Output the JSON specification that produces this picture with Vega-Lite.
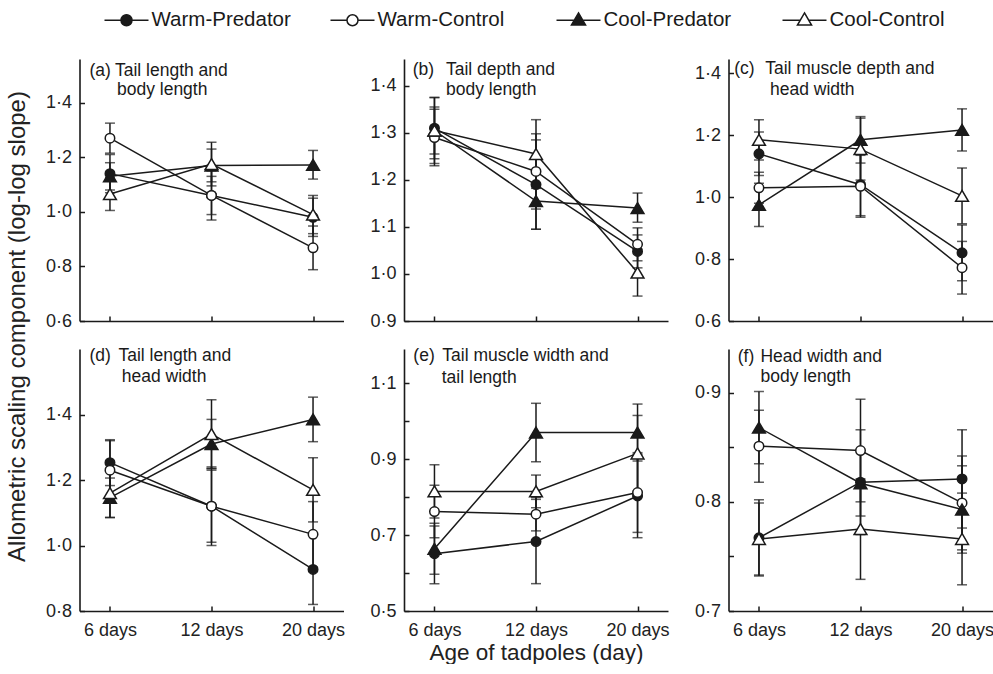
{
  "$schema": "https://vega.github.io/schema/vega-lite/v6.json",
  "autosize": {"type": "pad"},
  "padding": {"left": 4.5, "top": -3, "right": 0, "bottom": 0},
  "datasets": {
    "slopes": [
      {"panel":"a","group":"Warm-Predator","age":"6 days","day":6,"y":1.14,"lo":1.07,"hi":1.21},
      {"panel":"a","group":"Warm-Predator","age":"12 days","day":12,"y":1.06,"lo":0.99,"hi":1.13},
      {"panel":"a","group":"Warm-Predator","age":"20 days","day":20,"y":0.98,"lo":0.91,"hi":1.05},
      {"panel":"a","group":"Warm-Control","age":"6 days","day":6,"y":1.27,"lo":1.215,"hi":1.325},
      {"panel":"a","group":"Warm-Control","age":"12 days","day":12,"y":1.06,"lo":0.97,"hi":1.15},
      {"panel":"a","group":"Warm-Control","age":"20 days","day":20,"y":0.868,"lo":0.788,"hi":0.948},
      {"panel":"a","group":"Cool-Predator","age":"6 days","day":6,"y":1.13,"lo":1.08,"hi":1.18},
      {"panel":"a","group":"Cool-Predator","age":"12 days","day":12,"y":1.17,"lo":1.11,"hi":1.23},
      {"panel":"a","group":"Cool-Predator","age":"20 days","day":20,"y":1.172,"lo":1.12,"hi":1.225},
      {"panel":"a","group":"Cool-Control","age":"6 days","day":6,"y":1.065,"lo":1.005,"hi":1.125},
      {"panel":"a","group":"Cool-Control","age":"12 days","day":12,"y":1.175,"lo":1.095,"hi":1.255},
      {"panel":"a","group":"Cool-Control","age":"20 days","day":20,"y":0.99,"lo":0.92,"hi":1.06},

      {"panel":"b","group":"Warm-Predator","age":"6 days","day":6,"y":1.31,"lo":1.245,"hi":1.375},
      {"panel":"b","group":"Warm-Predator","age":"12 days","day":12,"y":1.19,"lo":1.095,"hi":1.285},
      {"panel":"b","group":"Warm-Predator","age":"20 days","day":20,"y":1.048,"lo":1.013,"hi":1.083},
      {"panel":"b","group":"Warm-Control","age":"6 days","day":6,"y":1.29,"lo":1.23,"hi":1.35},
      {"panel":"b","group":"Warm-Control","age":"12 days","day":12,"y":1.218,"lo":1.138,"hi":1.298},
      {"panel":"b","group":"Warm-Control","age":"20 days","day":20,"y":1.063,"lo":1.028,"hi":1.098},
      {"panel":"b","group":"Cool-Predator","age":"6 days","day":6,"y":1.305,"lo":1.255,"hi":1.355},
      {"panel":"b","group":"Cool-Predator","age":"12 days","day":12,"y":1.155,"lo":1.095,"hi":1.215},
      {"panel":"b","group":"Cool-Predator","age":"20 days","day":20,"y":1.14,"lo":1.11,"hi":1.172},
      {"panel":"b","group":"Cool-Control","age":"6 days","day":6,"y":1.305,"lo":1.235,"hi":1.375},
      {"panel":"b","group":"Cool-Control","age":"12 days","day":12,"y":1.255,"lo":1.182,"hi":1.328},
      {"panel":"b","group":"Cool-Control","age":"20 days","day":20,"y":1.003,"lo":0.953,"hi":1.053},

      {"panel":"c","group":"Warm-Predator","age":"6 days","day":6,"y":1.14,"lo":1.07,"hi":1.21},
      {"panel":"c","group":"Warm-Predator","age":"12 days","day":12,"y":1.04,"lo":0.94,"hi":1.14},
      {"panel":"c","group":"Warm-Predator","age":"20 days","day":20,"y":0.82,"lo":0.73,"hi":0.91},
      {"panel":"c","group":"Warm-Control","age":"6 days","day":6,"y":1.03,"lo":0.98,"hi":1.08},
      {"panel":"c","group":"Warm-Control","age":"12 days","day":12,"y":1.035,"lo":0.935,"hi":1.135},
      {"panel":"c","group":"Warm-Control","age":"20 days","day":20,"y":0.772,"lo":0.687,"hi":0.857},
      {"panel":"c","group":"Cool-Predator","age":"6 days","day":6,"y":0.975,"lo":0.905,"hi":1.045},
      {"panel":"c","group":"Cool-Predator","age":"12 days","day":12,"y":1.185,"lo":1.11,"hi":1.26},
      {"panel":"c","group":"Cool-Predator","age":"20 days","day":20,"y":1.217,"lo":1.149,"hi":1.285},
      {"panel":"c","group":"Cool-Control","age":"6 days","day":6,"y":1.185,"lo":1.12,"hi":1.25},
      {"panel":"c","group":"Cool-Control","age":"12 days","day":12,"y":1.155,"lo":1.055,"hi":1.255},
      {"panel":"c","group":"Cool-Control","age":"20 days","day":20,"y":1.004,"lo":0.914,"hi":1.094},

      {"panel":"d","group":"Warm-Predator","age":"6 days","day":6,"y":1.253,"lo":1.183,"hi":1.323},
      {"panel":"d","group":"Warm-Predator","age":"12 days","day":12,"y":1.12,"lo":1.01,"hi":1.23},
      {"panel":"d","group":"Warm-Predator","age":"20 days","day":20,"y":0.927,"lo":0.82,"hi":1.034},
      {"panel":"d","group":"Warm-Control","age":"6 days","day":6,"y":1.23,"lo":1.14,"hi":1.32},
      {"panel":"d","group":"Warm-Control","age":"12 days","day":12,"y":1.12,"lo":1.0,"hi":1.24},
      {"panel":"d","group":"Warm-Control","age":"20 days","day":20,"y":1.034,"lo":0.934,"hi":1.134},
      {"panel":"d","group":"Cool-Predator","age":"6 days","day":6,"y":1.146,"lo":1.086,"hi":1.206},
      {"panel":"d","group":"Cool-Predator","age":"12 days","day":12,"y":1.31,"lo":1.235,"hi":1.385},
      {"panel":"d","group":"Cool-Predator","age":"20 days","day":20,"y":1.385,"lo":1.317,"hi":1.453},
      {"panel":"d","group":"Cool-Control","age":"6 days","day":6,"y":1.16,"lo":1.085,"hi":1.235},
      {"panel":"d","group":"Cool-Control","age":"12 days","day":12,"y":1.34,"lo":1.235,"hi":1.445},
      {"panel":"d","group":"Cool-Control","age":"20 days","day":20,"y":1.17,"lo":1.072,"hi":1.268},

      {"panel":"e","group":"Warm-Predator","age":"6 days","day":6,"y":0.651,"lo":0.572,"hi":0.724},
      {"panel":"e","group":"Warm-Predator","age":"12 days","day":12,"y":0.683,"lo":0.572,"hi":0.794},
      {"panel":"e","group":"Warm-Predator","age":"20 days","day":20,"y":0.803,"lo":0.693,"hi":0.913},
      {"panel":"e","group":"Warm-Control","age":"6 days","day":6,"y":0.762,"lo":0.693,"hi":0.831},
      {"panel":"e","group":"Warm-Control","age":"12 days","day":12,"y":0.755,"lo":0.711,"hi":0.799},
      {"panel":"e","group":"Warm-Control","age":"20 days","day":20,"y":0.812,"lo":0.707,"hi":0.917},
      {"panel":"e","group":"Cool-Predator","age":"6 days","day":6,"y":0.664,"lo":0.597,"hi":0.731},
      {"panel":"e","group":"Cool-Predator","age":"12 days","day":12,"y":0.97,"lo":0.893,"hi":1.047},
      {"panel":"e","group":"Cool-Predator","age":"20 days","day":20,"y":0.97,"lo":0.895,"hi":1.045},
      {"panel":"e","group":"Cool-Control","age":"6 days","day":6,"y":0.815,"lo":0.745,"hi":0.885},
      {"panel":"e","group":"Cool-Control","age":"12 days","day":12,"y":0.815,"lo":0.772,"hi":0.858},
      {"panel":"e","group":"Cool-Control","age":"20 days","day":20,"y":0.915,"lo":0.815,"hi":1.015},

      {"panel":"f","group":"Warm-Predator","age":"6 days","day":6,"y":0.767,"lo":0.732,"hi":0.802},
      {"panel":"f","group":"Warm-Predator","age":"12 days","day":12,"y":0.818,"lo":0.77,"hi":0.866},
      {"panel":"f","group":"Warm-Predator","age":"20 days","day":20,"y":0.821,"lo":0.776,"hi":0.866},
      {"panel":"f","group":"Warm-Control","age":"6 days","day":6,"y":0.851,"lo":0.818,"hi":0.884},
      {"panel":"f","group":"Warm-Control","age":"12 days","day":12,"y":0.847,"lo":0.8,"hi":0.894},
      {"panel":"f","group":"Warm-Control","age":"20 days","day":20,"y":0.799,"lo":0.756,"hi":0.842},
      {"panel":"f","group":"Cool-Predator","age":"6 days","day":6,"y":0.868,"lo":0.835,"hi":0.901},
      {"panel":"f","group":"Cool-Predator","age":"12 days","day":12,"y":0.817,"lo":0.787,"hi":0.847},
      {"panel":"f","group":"Cool-Predator","age":"20 days","day":20,"y":0.793,"lo":0.753,"hi":0.833},
      {"panel":"f","group":"Cool-Control","age":"6 days","day":6,"y":0.766,"lo":0.733,"hi":0.799},
      {"panel":"f","group":"Cool-Control","age":"12 days","day":12,"y":0.775,"lo":0.729,"hi":0.821},
      {"panel":"f","group":"Cool-Control","age":"20 days","day":20,"y":0.766,"lo":0.724,"hi":0.808}
    ],
    "panels": [
      {"panel":"a","tag":"(a)","line1":"Tail length and","line2":"body length"},
      {"panel":"b","tag":"(b)","line1":"Tail depth and","line2":"body length"},
      {"panel":"c","tag":"(c)","line1":"Tail muscle depth and","line2":"head width"},
      {"panel":"d","tag":"(d)","line1":"Tail length and","line2":"head width"},
      {"panel":"e","tag":"(e)","line1":"Tail muscle width and","line2":"tail length"},
      {"panel":"f","tag":"(f)","line1":"Head width and","line2":"body length"}
    ]
  },
  "data": {"name": "slopes"},
  "columns": 3,
  "spacing": {"row": 28, "column": 60.5},
  "bounds": "flush",
  "concat": [
    {
      "width": 264, "height": 262,
      "transform": [{"filter": "datum.panel === 'a'"}],
      "encoding": {"x": {"field": "age", "type": "ordinal", "sort": ["6 days","12 days","20 days"], "scale": {"type": "point", "domain": ["6 days","12 days","20 days"], "padding": 0.3}, "axis": {"title": null, "labels": false}}},
      "layer": [
        {"mark": {"type": "rule", "color": "#1a1a1a", "strokeWidth": 1.5},
         "encoding": {"y": {"field": "lo", "type": "quantitative", "title": "Allometric scaling component (log-log slope)", "scale": {"domain": [0.6, 1.56], "nice": false, "zero": false},
           "axis": {"values": [0.6, 0.8, 1.0, 1.2, 1.4], "labelExpr": "replace(format(datum.value, '.1f'), '.', '·')", "titleX": -62, "titleY": 267, "titleAngle": -90, "titleAlign": "center", "titleBaseline": "middle", "titleFontSize": 24}},
           "y2": {"field": "hi"}}},
        {"mark": {"type": "tick", "color": "#1a1a1a", "thickness": 1.5, "size": 10}, "encoding": {"y": {"field": "lo", "type": "quantitative", "title": "Allometric scaling component (log-log slope)"}}},
        {"mark": {"type": "tick", "color": "#1a1a1a", "thickness": 1.5, "size": 10}, "encoding": {"y": {"field": "hi", "type": "quantitative", "title": "Allometric scaling component (log-log slope)"}}},
        {"mark": {"type": "line", "color": "#1a1a1a", "strokeWidth": 1.5}, "encoding": {"y": {"field": "y", "type": "quantitative", "title": "Allometric scaling component (log-log slope)"}, "detail": {"field": "group"}, "order": {"field": "day", "type": "quantitative"}}},
        {"mark": {"type": "point", "filled": true, "opacity": 1, "stroke": "#1a1a1a", "strokeWidth": 1.5, "size": 90},
         "encoding": {"y": {"field": "y", "type": "quantitative", "title": "Allometric scaling component (log-log slope)"},
           "shape": {"condition": {"test": "datum.group === 'Warm-Predator' || datum.group === 'Warm-Control'", "value": "circle"}, "value": "M0,-1.15L1.35,1.15L-1.35,1.15Z"},
           "fill": {"condition": {"test": "datum.group === 'Warm-Predator' || datum.group === 'Cool-Predator'", "value": "#1a1a1a"}, "value": "#ffffff"}}},
        {"transform": [{"filter": "datum.day < 0"}],
         "mark": {"type": "point", "filled": true, "opacity": 1, "stroke": "#1a1a1a", "strokeWidth": 1.5},
         "encoding": {"y": {"field": "y", "type": "quantitative", "title": "Allometric scaling component (log-log slope)"},
           "shape": {"field": "group", "type": "nominal", "scale": {"domain": ["Warm-Predator","Warm-Control","Cool-Predator","Cool-Control"], "range": ["M-1,0H-0.25M0.25,0H1M0.25,0A0.25,0.25,0,1,1,-0.25,0A0.25,0.25,0,1,1,0.25,0Z", "M-1,0H-0.25M0.25,0H1M0.25,0A0.25,0.25,0,1,1,-0.25,0A0.25,0.25,0,1,1,0.25,0Z", "M-1,0H-0.19M0.19,0H1M0,-0.33L0.32,0.22L-0.32,0.22Z", "M-1,0H-0.19M0.19,0H1M0,-0.33L0.32,0.22L-0.32,0.22Z"]},
             "legend": {"title": null, "orient": "none", "legendX": 24, "legendY": -62, "direction": "horizontal", "columns": 4, "gridAlign": "all", "symbolSize": 1936, "labelFontSize": 20.5, "labelColor": "#1a1a1a", "labelOffset": 2, "columnPadding": 36, "labelLimit": 300,
               "encode": {"symbols": {"stroke": {"value": "#1a1a1a"}, "strokeWidth": {"value": 1.5}, "opacity": {"value": 1}}}}},
           "fill": {"field": "group", "type": "nominal", "scale": {"domain": ["Warm-Predator","Warm-Control","Cool-Predator","Cool-Control"], "range": ["#1a1a1a","#ffffff","#1a1a1a","#ffffff"]},
             "legend": {"title": null, "orient": "none", "legendX": 24, "legendY": -62, "direction": "horizontal", "columns": 4, "gridAlign": "all", "symbolSize": 1936, "labelFontSize": 20.5, "labelColor": "#1a1a1a", "labelOffset": 2, "columnPadding": 36, "labelLimit": 300,
               "encode": {"symbols": {"stroke": {"value": "#1a1a1a"}, "strokeWidth": {"value": 1.5}, "opacity": {"value": 1}}}}}}},
        {"data": {"name": "panels"}, "transform": [{"filter": "datum.panel === 'a'"}], "mark": {"type": "text", "align": "left", "baseline": "middle", "dx": -20.5, "dy": 11.7, "fontSize": 17.5, "color": "#1a1a1a"}, "encoding": {"x": {"datum": "6 days"}, "y": {"datum": 1.56}, "text": {"field": "tag"}}},
        {"data": {"name": "panels"}, "transform": [{"filter": "datum.panel === 'a'"}], "mark": {"type": "text", "align": "left", "baseline": "middle", "dx": 5, "dy": 11.7, "fontSize": 17.5, "color": "#1a1a1a"}, "encoding": {"x": {"datum": "6 days"}, "y": {"datum": 1.56}, "text": {"field": "line1"}}},
        {"data": {"name": "panels"}, "transform": [{"filter": "datum.panel === 'a'"}], "mark": {"type": "text", "align": "left", "baseline": "middle", "dx": 7, "dy": 31, "fontSize": 17.5, "color": "#1a1a1a"}, "encoding": {"x": {"datum": "6 days"}, "y": {"datum": 1.56}, "text": {"field": "line2"}}}
      ]
    },
    {
      "width": 264, "height": 262,
      "transform": [{"filter": "datum.panel === 'b'"}],
      "encoding": {"x": {"field": "age", "type": "ordinal", "sort": ["6 days","12 days","20 days"], "scale": {"type": "point", "domain": ["6 days","12 days","20 days"], "padding": 0.3}, "axis": {"title": null, "labels": false}}},
      "layer": [
        {"mark": {"type": "rule", "color": "#1a1a1a", "strokeWidth": 1.5},
         "encoding": {"y": {"field": "lo", "type": "quantitative", "title": null, "scale": {"domain": [0.9, 1.457], "nice": false, "zero": false},
           "axis": {"values": [0.9, 1.0, 1.1, 1.2, 1.3, 1.4], "labelExpr": "replace(format(datum.value, '.1f'), '.', '·')"}},
           "y2": {"field": "hi"}}},
        {"mark": {"type": "tick", "color": "#1a1a1a", "thickness": 1.5, "size": 10}, "encoding": {"y": {"field": "lo", "type": "quantitative", "title": null}}},
        {"mark": {"type": "tick", "color": "#1a1a1a", "thickness": 1.5, "size": 10}, "encoding": {"y": {"field": "hi", "type": "quantitative", "title": null}}},
        {"mark": {"type": "line", "color": "#1a1a1a", "strokeWidth": 1.5}, "encoding": {"y": {"field": "y", "type": "quantitative", "title": null}, "detail": {"field": "group"}, "order": {"field": "day", "type": "quantitative"}}},
        {"mark": {"type": "point", "filled": true, "opacity": 1, "stroke": "#1a1a1a", "strokeWidth": 1.5, "size": 90},
         "encoding": {"y": {"field": "y", "type": "quantitative", "title": null},
           "shape": {"condition": {"test": "datum.group === 'Warm-Predator' || datum.group === 'Warm-Control'", "value": "circle"}, "value": "M0,-1.15L1.35,1.15L-1.35,1.15Z"},
           "fill": {"condition": {"test": "datum.group === 'Warm-Predator' || datum.group === 'Cool-Predator'", "value": "#1a1a1a"}, "value": "#ffffff"}}},
        {"data": {"name": "panels"}, "transform": [{"filter": "datum.panel === 'b'"}], "mark": {"type": "text", "align": "left", "baseline": "middle", "dx": -21.8, "dy": 11.4, "fontSize": 17.5, "color": "#1a1a1a"}, "encoding": {"x": {"datum": "6 days"}, "y": {"datum": 1.457}, "text": {"field": "tag"}}},
        {"data": {"name": "panels"}, "transform": [{"filter": "datum.panel === 'b'"}], "mark": {"type": "text", "align": "left", "baseline": "middle", "dx": 11.5, "dy": 11.4, "fontSize": 17.5, "color": "#1a1a1a"}, "encoding": {"x": {"datum": "6 days"}, "y": {"datum": 1.457}, "text": {"field": "line1"}}},
        {"data": {"name": "panels"}, "transform": [{"filter": "datum.panel === 'b'"}], "mark": {"type": "text", "align": "left", "baseline": "middle", "dx": 11.5, "dy": 30.7, "fontSize": 17.5, "color": "#1a1a1a"}, "encoding": {"x": {"datum": "6 days"}, "y": {"datum": 1.457}, "text": {"field": "line2"}}}
      ]
    },
    {
      "width": 264, "height": 262,
      "transform": [{"filter": "datum.panel === 'c'"}],
      "encoding": {"x": {"field": "age", "type": "ordinal", "sort": ["6 days","12 days","20 days"], "scale": {"type": "point", "domain": ["6 days","12 days","20 days"], "padding": 0.3}, "axis": {"title": null, "labels": false}}},
      "layer": [
        {"mark": {"type": "rule", "color": "#1a1a1a", "strokeWidth": 1.5},
         "encoding": {"y": {"field": "lo", "type": "quantitative", "title": null, "scale": {"domain": [0.6, 1.446], "nice": false, "zero": false},
           "axis": {"values": [0.6, 0.8, 1.0, 1.2, 1.4], "labelExpr": "replace(format(datum.value, '.1f'), '.', '·')"}},
           "y2": {"field": "hi"}}},
        {"mark": {"type": "tick", "color": "#1a1a1a", "thickness": 1.5, "size": 10}, "encoding": {"y": {"field": "lo", "type": "quantitative", "title": null}}},
        {"mark": {"type": "tick", "color": "#1a1a1a", "thickness": 1.5, "size": 10}, "encoding": {"y": {"field": "hi", "type": "quantitative", "title": null}}},
        {"mark": {"type": "line", "color": "#1a1a1a", "strokeWidth": 1.5}, "encoding": {"y": {"field": "y", "type": "quantitative", "title": null}, "detail": {"field": "group"}, "order": {"field": "day", "type": "quantitative"}}},
        {"mark": {"type": "point", "filled": true, "opacity": 1, "stroke": "#1a1a1a", "strokeWidth": 1.5, "size": 90},
         "encoding": {"y": {"field": "y", "type": "quantitative", "title": null},
           "shape": {"condition": {"test": "datum.group === 'Warm-Predator' || datum.group === 'Warm-Control'", "value": "circle"}, "value": "M0,-1.15L1.35,1.15L-1.35,1.15Z"},
           "fill": {"condition": {"test": "datum.group === 'Warm-Predator' || datum.group === 'Cool-Predator'", "value": "#1a1a1a"}, "value": "#ffffff"}}},
        {"data": {"name": "panels"}, "transform": [{"filter": "datum.panel === 'c'"}], "mark": {"type": "text", "align": "left", "baseline": "middle", "dx": -24.8, "dy": 10, "fontSize": 17.5, "color": "#1a1a1a"}, "encoding": {"x": {"datum": "6 days"}, "y": {"datum": 1.446}, "text": {"field": "tag"}}},
        {"data": {"name": "panels"}, "transform": [{"filter": "datum.panel === 'c'"}], "mark": {"type": "text", "align": "left", "baseline": "middle", "dx": 6.2, "dy": 10, "fontSize": 17.5, "color": "#1a1a1a"}, "encoding": {"x": {"datum": "6 days"}, "y": {"datum": 1.446}, "text": {"field": "line1"}}},
        {"data": {"name": "panels"}, "transform": [{"filter": "datum.panel === 'c'"}], "mark": {"type": "text", "align": "left", "baseline": "middle", "dx": 11, "dy": 31, "fontSize": 17.5, "color": "#1a1a1a"}, "encoding": {"x": {"datum": "6 days"}, "y": {"datum": 1.446}, "text": {"field": "line2"}}}
      ]
    },
    {
      "width": 264, "height": 262,
      "transform": [{"filter": "datum.panel === 'd'"}],
      "encoding": {"x": {"field": "age", "type": "ordinal", "sort": ["6 days","12 days","20 days"], "scale": {"type": "point", "domain": ["6 days","12 days","20 days"], "padding": 0.3}, "axis": {"title": null, "labelAngle": 0}}},
      "layer": [
        {"mark": {"type": "rule", "color": "#1a1a1a", "strokeWidth": 1.5},
         "encoding": {"y": {"field": "lo", "type": "quantitative", "title": null, "scale": {"domain": [0.8, 1.6], "nice": false, "zero": false},
           "axis": {"values": [0.8, 1.0, 1.2, 1.4], "labelExpr": "replace(format(datum.value, '.1f'), '.', '·')"}},
           "y2": {"field": "hi"}}},
        {"mark": {"type": "tick", "color": "#1a1a1a", "thickness": 1.5, "size": 10}, "encoding": {"y": {"field": "lo", "type": "quantitative", "title": null}}},
        {"mark": {"type": "tick", "color": "#1a1a1a", "thickness": 1.5, "size": 10}, "encoding": {"y": {"field": "hi", "type": "quantitative", "title": null}}},
        {"mark": {"type": "line", "color": "#1a1a1a", "strokeWidth": 1.5}, "encoding": {"y": {"field": "y", "type": "quantitative", "title": null}, "detail": {"field": "group"}, "order": {"field": "day", "type": "quantitative"}}},
        {"mark": {"type": "point", "filled": true, "opacity": 1, "stroke": "#1a1a1a", "strokeWidth": 1.5, "size": 90},
         "encoding": {"y": {"field": "y", "type": "quantitative", "title": null},
           "shape": {"condition": {"test": "datum.group === 'Warm-Predator' || datum.group === 'Warm-Control'", "value": "circle"}, "value": "M0,-1.15L1.35,1.15L-1.35,1.15Z"},
           "fill": {"condition": {"test": "datum.group === 'Warm-Predator' || datum.group === 'Cool-Predator'", "value": "#1a1a1a"}, "value": "#ffffff"}}},
        {"data": {"name": "panels"}, "transform": [{"filter": "datum.panel === 'd'"}], "mark": {"type": "text", "align": "left", "baseline": "middle", "dx": -20.5, "dy": 6.7, "fontSize": 17.5, "color": "#1a1a1a"}, "encoding": {"x": {"datum": "6 days"}, "y": {"datum": 1.6}, "text": {"field": "tag"}}},
        {"data": {"name": "panels"}, "transform": [{"filter": "datum.panel === 'd'"}], "mark": {"type": "text", "align": "left", "baseline": "middle", "dx": 8.5, "dy": 6.7, "fontSize": 17.5, "color": "#1a1a1a"}, "encoding": {"x": {"datum": "6 days"}, "y": {"datum": 1.6}, "text": {"field": "line1"}}},
        {"data": {"name": "panels"}, "transform": [{"filter": "datum.panel === 'd'"}], "mark": {"type": "text", "align": "left", "baseline": "middle", "dx": 11.8, "dy": 28.3, "fontSize": 17.5, "color": "#1a1a1a"}, "encoding": {"x": {"datum": "6 days"}, "y": {"datum": 1.6}, "text": {"field": "line2"}}}
      ]
    },
    {
      "width": 264, "height": 262,
      "transform": [{"filter": "datum.panel === 'e'"}],
      "encoding": {"x": {"field": "age", "type": "ordinal", "sort": ["6 days","12 days","20 days"], "scale": {"type": "point", "domain": ["6 days","12 days","20 days"], "padding": 0.3}, "axis": {"title": "Age of tadpoles (day)", "labelAngle": 0}}},
      "layer": [
        {"mark": {"type": "rule", "color": "#1a1a1a", "strokeWidth": 1.5},
         "encoding": {"y": {"field": "lo", "type": "quantitative", "title": null, "scale": {"domain": [0.5, 1.19], "nice": false, "zero": false},
           "axis": {"values": [0.5, 0.6, 0.7, 0.8, 0.9, 1.0, 1.1], "labelExpr": "indexof(['0.5','0.7','0.9','1.1'], format(datum.value, '.1f')) >= 0 ? replace(format(datum.value, '.1f'), '.', '·') : ''"}},
           "y2": {"field": "hi"}}},
        {"mark": {"type": "tick", "color": "#1a1a1a", "thickness": 1.5, "size": 10}, "encoding": {"y": {"field": "lo", "type": "quantitative", "title": null}}},
        {"mark": {"type": "tick", "color": "#1a1a1a", "thickness": 1.5, "size": 10}, "encoding": {"y": {"field": "hi", "type": "quantitative", "title": null}}},
        {"mark": {"type": "line", "color": "#1a1a1a", "strokeWidth": 1.5}, "encoding": {"y": {"field": "y", "type": "quantitative", "title": null}, "detail": {"field": "group"}, "order": {"field": "day", "type": "quantitative"}}},
        {"mark": {"type": "point", "filled": true, "opacity": 1, "stroke": "#1a1a1a", "strokeWidth": 1.5, "size": 90},
         "encoding": {"y": {"field": "y", "type": "quantitative", "title": null},
           "shape": {"condition": {"test": "datum.group === 'Warm-Predator' || datum.group === 'Warm-Control'", "value": "circle"}, "value": "M0,-1.15L1.35,1.15L-1.35,1.15Z"},
           "fill": {"condition": {"test": "datum.group === 'Warm-Predator' || datum.group === 'Cool-Predator'", "value": "#1a1a1a"}, "value": "#ffffff"}}},
        {"data": {"name": "panels"}, "transform": [{"filter": "datum.panel === 'e'"}], "mark": {"type": "text", "align": "left", "baseline": "middle", "dx": -21.1, "dy": 7.4, "fontSize": 17.5, "color": "#1a1a1a"}, "encoding": {"x": {"datum": "6 days"}, "y": {"datum": 1.19}, "text": {"field": "tag"}}},
        {"data": {"name": "panels"}, "transform": [{"filter": "datum.panel === 'e'"}], "mark": {"type": "text", "align": "left", "baseline": "middle", "dx": 7.9, "dy": 7.4, "fontSize": 17.5, "color": "#1a1a1a"}, "encoding": {"x": {"datum": "6 days"}, "y": {"datum": 1.19}, "text": {"field": "line1"}}},
        {"data": {"name": "panels"}, "transform": [{"filter": "datum.panel === 'e'"}], "mark": {"type": "text", "align": "left", "baseline": "middle", "dx": 7.3, "dy": 29, "fontSize": 17.5, "color": "#1a1a1a"}, "encoding": {"x": {"datum": "6 days"}, "y": {"datum": 1.19}, "text": {"field": "line2"}}}
      ]
    },
    {
      "width": 264, "height": 262,
      "transform": [{"filter": "datum.panel === 'f'"}],
      "encoding": {"x": {"field": "age", "type": "ordinal", "sort": ["6 days","12 days","20 days"], "scale": {"type": "point", "domain": ["6 days","12 days","20 days"], "padding": 0.3}, "axis": {"title": null, "labelAngle": 0}}},
      "layer": [
        {"mark": {"type": "rule", "color": "#1a1a1a", "strokeWidth": 1.5},
         "encoding": {"y": {"field": "lo", "type": "quantitative", "title": null, "scale": {"domain": [0.7, 0.94], "nice": false, "zero": false},
           "axis": {"values": [0.7, 0.75, 0.8, 0.85, 0.9], "labelExpr": "indexof(['0.70','0.80','0.90'], format(datum.value, '.2f')) >= 0 ? replace(format(datum.value, '.1f'), '.', '·') : ''"}},
           "y2": {"field": "hi"}}},
        {"mark": {"type": "tick", "color": "#1a1a1a", "thickness": 1.5, "size": 10}, "encoding": {"y": {"field": "lo", "type": "quantitative", "title": null}}},
        {"mark": {"type": "tick", "color": "#1a1a1a", "thickness": 1.5, "size": 10}, "encoding": {"y": {"field": "hi", "type": "quantitative", "title": null}}},
        {"mark": {"type": "line", "color": "#1a1a1a", "strokeWidth": 1.5}, "encoding": {"y": {"field": "y", "type": "quantitative", "title": null}, "detail": {"field": "group"}, "order": {"field": "day", "type": "quantitative"}}},
        {"mark": {"type": "point", "filled": true, "opacity": 1, "stroke": "#1a1a1a", "strokeWidth": 1.5, "size": 90},
         "encoding": {"y": {"field": "y", "type": "quantitative", "title": null},
           "shape": {"condition": {"test": "datum.group === 'Warm-Predator' || datum.group === 'Warm-Control'", "value": "circle"}, "value": "M0,-1.15L1.35,1.15L-1.35,1.15Z"},
           "fill": {"condition": {"test": "datum.group === 'Warm-Predator' || datum.group === 'Cool-Predator'", "value": "#1a1a1a"}, "value": "#ffffff"}}},
        {"data": {"name": "panels"}, "transform": [{"filter": "datum.panel === 'f'"}], "mark": {"type": "text", "align": "left", "baseline": "middle", "dx": -21.2, "dy": 8.3, "fontSize": 17.5, "color": "#1a1a1a"}, "encoding": {"x": {"datum": "6 days"}, "y": {"datum": 0.94}, "text": {"field": "tag"}}},
        {"data": {"name": "panels"}, "transform": [{"filter": "datum.panel === 'f'"}], "mark": {"type": "text", "align": "left", "baseline": "middle", "dx": 1.5, "dy": 8.3, "fontSize": 17.5, "color": "#1a1a1a"}, "encoding": {"x": {"datum": "6 days"}, "y": {"datum": 0.94}, "text": {"field": "line1"}}},
        {"data": {"name": "panels"}, "transform": [{"filter": "datum.panel === 'f'"}], "mark": {"type": "text", "align": "left", "baseline": "middle", "dx": 1.5, "dy": 28.3, "fontSize": 17.5, "color": "#1a1a1a"}, "encoding": {"x": {"datum": "6 days"}, "y": {"datum": 0.94}, "text": {"field": "line2"}}}
      ]
    }
  ],
  "config": {
    "font": "Liberation Sans",
    "view": {"stroke": null},
    "axis": {
      "grid": false,
      "domainColor": "#1a1a1a", "domainWidth": 1.6,
      "tickColor": "#1a1a1a", "tickWidth": 1.5, "tickSize": -5,
      "labelFont": "Liberation Sans", "labelFontSize": 18, "labelColor": "#222222", "labelOverlap": false,
      "titleFont": "Liberation Sans", "titleFontSize": 22.5, "titleFontWeight": "normal", "titleColor": "#222222", "titlePadding": 2
    },
    "axisX": {"labelPadding": 15},
    "axisY": {"labelPadding": 13},
    "legend": {"labelFont": "Liberation Sans"}
  }
}
